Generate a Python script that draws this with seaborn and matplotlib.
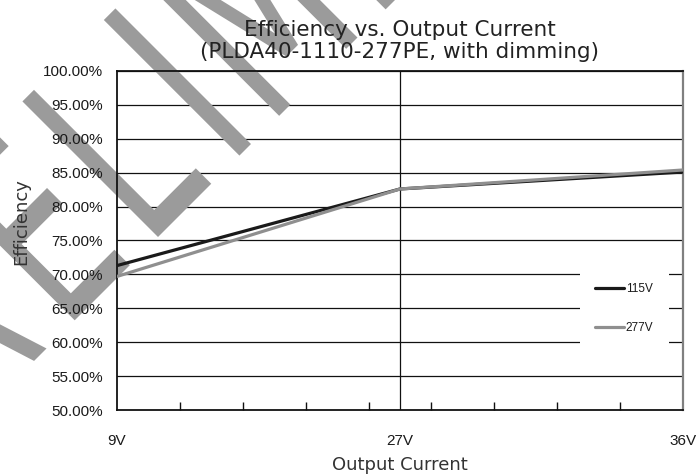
import numpy as np
import pandas as pd
import matplotlib
matplotlib.use("Agg")
import matplotlib.pyplot as plt
import seaborn as sns
from matplotlib.textpath import TextPath
from matplotlib.patches import PathPatch
from matplotlib.path import Path
from matplotlib.font_manager import FontProperties
from matplotlib.transforms import Affine2D
from matplotlib.ticker import FixedLocator, PercentFormatter

# values
currents = ["9V", "27V", "36V"]
eff_115v = [0.713, 0.826, 0.851]
eff_277v = [0.697, 0.826, 0.854]
input_labels = ["115V", "277V"]
y_ticks = [0.50, 0.55, 0.60, 0.65, 0.70, 0.75, 0.80, 0.85, 0.90, 0.95, 1.00]

df = pd.DataFrame({
    "current": currents * 2,
    "efficiency": eff_115v + eff_277v,
    "input": [input_labels[0]] * 3 + [input_labels[1]] * 3,
})

sns.set_theme(style="white")
plt.rcParams["font.family"] = ["DejaVu Sans"]

W, H = 696, 476
fig = plt.figure(figsize=(W / 100, H / 100), dpi=100)
ax = fig.add_axes([117 / W, 66 / H, 566 / W, 339 / H])
ax.set_axisbelow(False)


def add_watermark(ax, word, corner, em_x, em_y, gap, anchor_idx):
    # big rotated grey stamp text built from glyph outlines
    prop = FontProperties(family="DejaVu Sans")
    verts, codes = [], []
    cursor = 0.0
    anchor_x = 0.0
    for i, ch in enumerate(word):
        tp = TextPath((0, 0), ch, size=1, prop=prop)
        ext = tp.get_extents()
        v = tp.vertices.copy()
        v[:, 0] += cursor - ext.x0
        if i == anchor_idx:
            anchor_x = cursor
        verts.append(v)
        codes.append(tp.codes)
        cursor += ext.width + gap
    path = Path(np.concatenate(verts), np.concatenate(codes))
    tr = (Affine2D().translate(-anchor_x, 0).scale(em_x, em_y)
          .rotate_deg(45).translate(*corner))
    patch = PathPatch(path, transform=tr, facecolor="#9b9b9b",
                      edgecolor="none", zorder=2.2, clip_on=False)
    ax.add_artist(patch)


palette = {"115V": "#1a1a1a", "277V": "#8f8f8f"}
sns.lineplot(data=df, x="current", y="efficiency", hue="input",
             palette=palette, linewidth=2.3, sort=False, ax=ax, zorder=3)

ax.set_xlim(0, len(currents) - 1)
ax.set_ylim(y_ticks[0], y_ticks[-1])
ax.yaxis.set_major_locator(FixedLocator(y_ticks))
ax.yaxis.set_major_formatter(PercentFormatter(xmax=1.0, decimals=2))
ax.xaxis.set_minor_locator(FixedLocator(np.linspace(0, len(currents) - 1, 10)))

# grid lines under the stamp
for v in y_ticks[1:]:
    ax.axhline(v, color="#111111", lw=0.9, zorder=1)
ax.axvline(currents.index("27V"), color="#111111", lw=0.9, zorder=1)

ax.tick_params(axis="x", which="minor", direction="in", length=6, width=1,
               color="#111111", bottom=True)
ax.tick_params(axis="x", which="major", length=0, pad=17, labelsize=11,
               labelcolor="#1a1a1a", labelfontfamily="Liberation Sans")
ax.tick_params(axis="y", length=0, pad=10, labelsize=11,
               labelcolor="#1a1a1a", labelfontfamily="Liberation Sans")

for side in ["left", "bottom", "top"]:
    ax.spines[side].set_color("#111111")
    ax.spines[side].set_linewidth(1.3)
ax.spines["right"].set_color("#808080")
ax.spines["right"].set_linewidth(1.6)

ax.set_title("Efficiency vs. Output Current\n(PLDA40-1110-277PE, with dimming)",
             fontsize=15.5, color="#222222", pad=9, linespacing=1.15)
ax.set_xlabel("Output Current", fontsize=13, color="#333333")
ax.set_ylabel("Efficiency", fontsize=13, color="#333333")
ax.xaxis.set_label_coords(0.5, -0.136)
ax.yaxis.set_label_coords(-0.154, 0.555)

handles, labels = ax.get_legend_handles_labels()
leg = ax.legend(handles, labels, loc="center", bbox_to_anchor=(0.896, 0.30),
                fontsize=8.5, handlelength=2.5, handletextpad=0.1,
                labelspacing=2.3, borderpad=1.3, frameon=True,
                facecolor="white", edgecolor="none", framealpha=1.0)
leg.set_zorder(4)
for t in leg.get_texts():
    t.set_fontfamily("Liberation Sans")
    t.set_color("#1a1a1a")

add_watermark(ax, "PRELIMINARY", corner=(158, H - 237), em_x=166, em_y=263,
              gap=0.24, anchor_idx=3)

fig.savefig("out.png", dpi=100)
